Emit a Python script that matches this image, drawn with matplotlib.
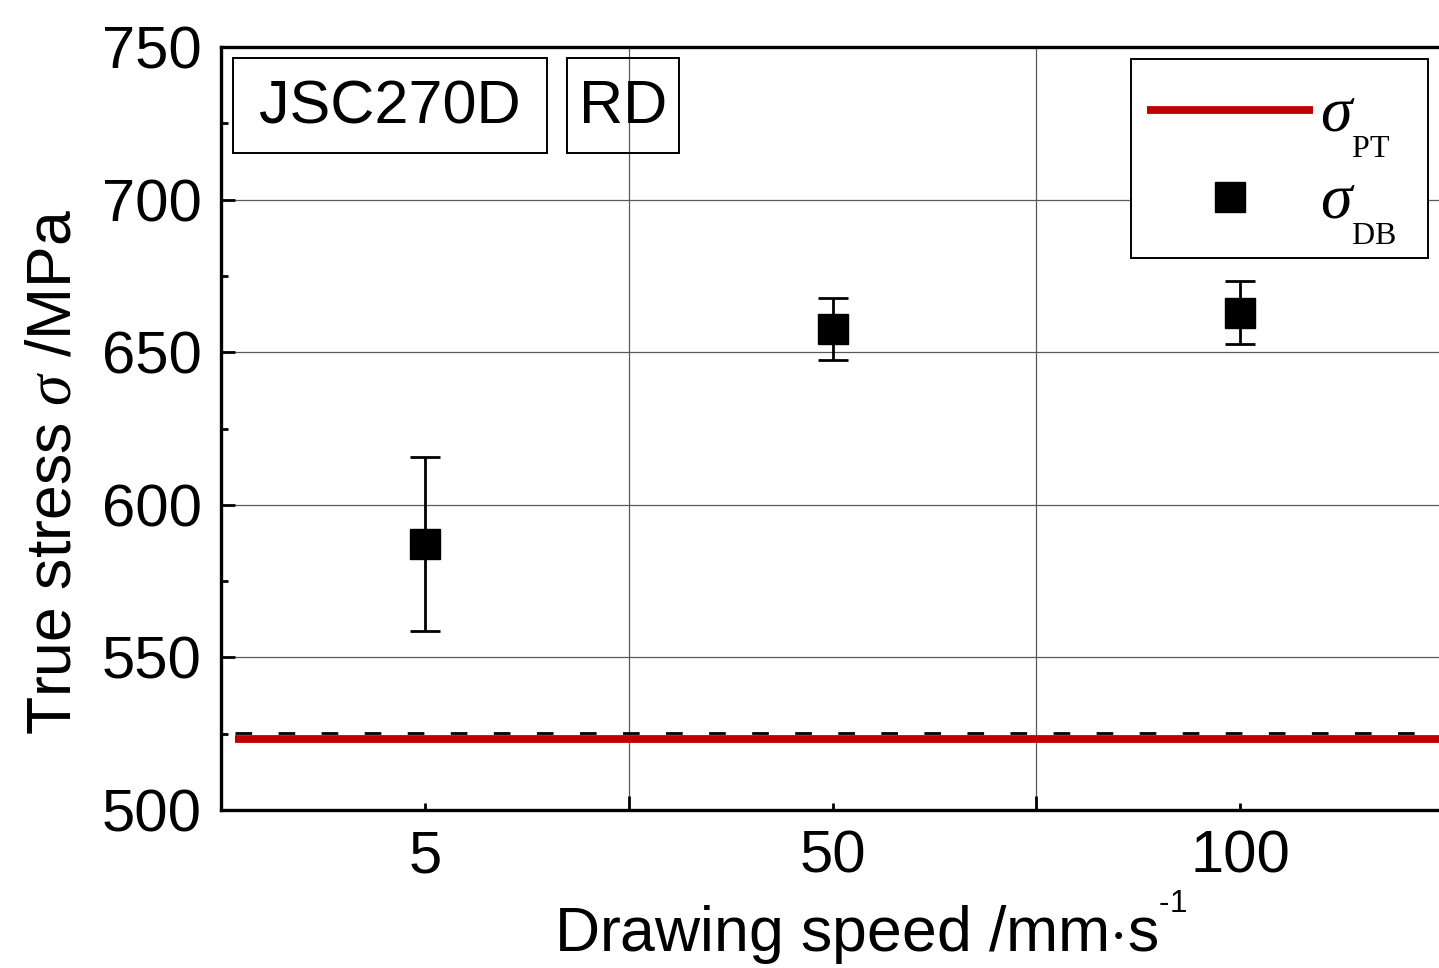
import matplotlib
matplotlib.use('Agg')
import matplotlib.pyplot as plt
from matplotlib.lines import Line2D
from matplotlib.patches import Rectangle
import matplotlib._mathtext as mt

# data
speeds = ['5', '50', '100']
x_pos = [1, 2, 3]
sigma_db = [587, 657.5, 663]
sigma_db_err = [28.5, 10.2, 10.2]
sigma_pt = 523.3
sigma_pt_ref = 525.1

# smaller, lower subscripts / higher superscripts like the original (Origin style)
mt.SHRINK_FACTOR = 0.5
mt.FontConstantsBase.sub1 = 0.9
mt.FontConstantsBase.subdrop = 0.9
mt.FontConstantsBase.sup1 = 1.35

plt.rcParams['font.family'] = ['Liberation Sans', 'DejaVu Sans']
plt.rcParams['mathtext.fontset'] = 'custom'
plt.rcParams['mathtext.rm'] = 'Liberation Serif'
plt.rcParams['mathtext.it'] = 'Liberation Serif:italic'
plt.rcParams['mathtext.sf'] = 'Liberation Sans'
plt.rcParams['lines.scale_dashes'] = False

fig = plt.figure(figsize=(14.39, 9.68), dpi=100)
ax = fig.add_axes([221 / 1439, 158 / 968, 1223 / 1439, 763 / 968])

# grid
ax.set_axisbelow(True)
ax.grid(True, which='major', color='0.35', linewidth=0.9)

# sigma_PT lines
ax.plot([0.535, 3.5], [sigma_pt_ref, sigma_pt_ref], color='black', linewidth=2,
        dashes=(12, 19), zorder=3)
ax.plot([0.535, 3.5], [sigma_pt, sigma_pt], color='#c00000', linewidth=5.6,
        solid_capstyle='butt', zorder=4)

# sigma_DB points
ax.errorbar(x_pos, sigma_db, yerr=sigma_db_err, fmt='s', color='black',
            markersize=21, elinewidth=2, capsize=11, capthick=2, zorder=5)

# axes limits and ticks
ax.set_xlim(0.5, 3.5)
ax.set_ylim(500, 750)
ax.set_xticks([1.5, 2.5])
ax.set_xticklabels([])
ax.set_xticks(x_pos, minor=True)
ax.set_xticklabels(speeds, minor=True)
ax.set_yticks(range(500, 751, 50))
ax.set_yticks(range(525, 750, 50), minor=True)
ax.tick_params(which='both', direction='in', width=2, labelsize=43, top=False, right=False)
ax.tick_params(axis='y', which='major', length=10, pad=14)
ax.tick_params(axis='y', which='minor', length=5)
ax.tick_params(axis='x', which='major', length=10, pad=14)
ax.tick_params(axis='x', which='minor', length=5, pad=14)

for side in ['left', 'bottom', 'top', 'right']:
    ax.spines[side].set_linewidth(2.4)

ax.set_xlabel('Drawing speed /mm$\\cdot$s$^{\\mathsf{\u20101}}$', fontsize=45)
ax.xaxis.set_label_coords(0.531, -0.1022)
ax.set_ylabel(r'True stress $\sigma$ /MPa', fontsize=45)
ax.yaxis.set_label_coords(-0.1125, 0.443)

# label boxes
for (x0, y0, w, h), txt in [((233, 58, 314, 95), 'JSC270D'), ((567, 58, 112, 95), 'RD')]:
    fig.patches.append(Rectangle((x0 / 1439, 1 - (y0 + h) / 968), w / 1439, h / 968,
                                 transform=fig.transFigure, fill=False,
                                 edgecolor='black', linewidth=1.4, zorder=10))
    fig.text((x0 + w / 2) / 1439, 1 - (y0 + h / 2 + 2) / 968, txt, fontsize=44,
             ha='center', va='center', zorder=11)

# legend (frame drawn separately so the entries sit as in the original)
ax.add_patch(Rectangle((1131 / 1439, 1 - 258 / 968), 297 / 1439, 199 / 968,
                       transform=fig.transFigure, facecolor='white', clip_on=False,
                       edgecolor='black', linewidth=1.4, zorder=10))
h_pt = (Line2D([], [], color='black', linewidth=2, dashes=(12, 19)),
        Line2D([], [], color='#c00000', linewidth=5.6, solid_capstyle='butt'))
h_db = Line2D([], [], marker='s', color='black', linestyle='None', markersize=21)
leg = ax.legend([h_pt, h_db], [r'$\sigma_{\mathrm{PT}}$', r'$\sigma_{\mathrm{DB}}$'],
                loc='upper left', bbox_to_anchor=(1147 / 1439, 1 - 85 / 968),
                bbox_transform=fig.transFigure, borderaxespad=0, borderpad=0,
                fontsize=46, handlelength=2.6, handletextpad=0.11,
                labelspacing=0.19, frameon=False)
leg.set_zorder(11)

fig.savefig('out.png', dpi=100)
